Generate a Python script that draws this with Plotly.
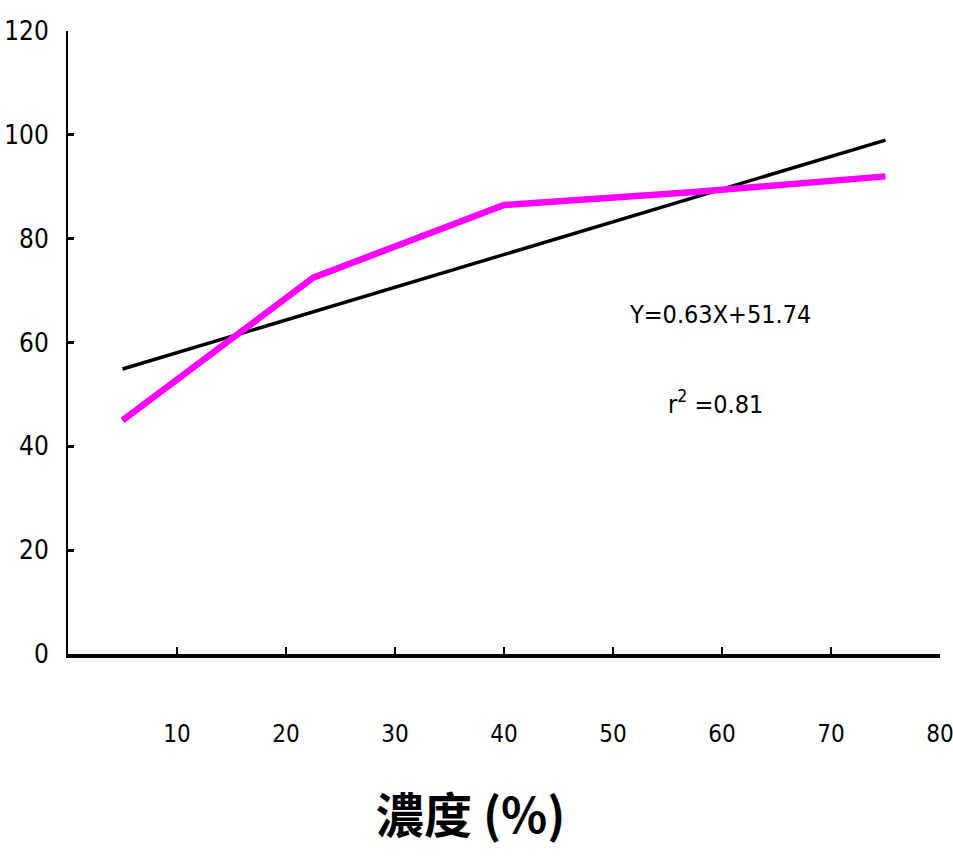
import plotly.graph_objects as go

# Concentration (%) and measured response
conc = [5, 22.5, 40, 57.5, 75]
response = [45, 72.5, 86.5, 89, 92]

# Linear fit as stated in the annotation
slope = 0.63
intercept = 51.74
fit_x = [conc[0], conc[-1]]
fit_y = [slope * x + intercept for x in fit_x]

x_ticks = [10, 20, 30, 40, 50, 60, 70, 80]
y_ticks = [0, 20, 40, 60, 80, 100, 120]

narrow = "DejaVu Sans Condensed, Liberation Sans Narrow, Liberation Sans, sans-serif"

fig = go.Figure()
fig.add_trace(go.Scatter(x=fit_x, y=fit_y, mode="lines",
                         line=dict(color="black", width=3.5), showlegend=False))
fig.add_trace(go.Scatter(x=conc, y=response, mode="lines",
                         line=dict(color="#FF00FF", width=6.5), showlegend=False))

fig.add_annotation(x=59.8, y=65.3, text="Y=0.63X+51.74", showarrow=False,
                   font=dict(family=narrow, size=25, color="black"))
fig.add_annotation(x=59.4, y=48.4, text="r<sup>2</sup> =0.81", showarrow=False,
                   font=dict(family=narrow, size=25, color="black"))

# Axis title placed as a paper annotation under the tick labels
fig.add_annotation(xref="paper", yref="paper", x=0.462, y=-0.254,
                   xanchor="center", yanchor="middle",
                   text="<b>濃度 (%)</b>", showarrow=False,
                   font=dict(family="Noto Sans CJK TC", size=48, color="black"))

fig.update_layout(
    width=953, height=856,
    margin=dict(l=68, r=13, t=31, b=202),
    paper_bgcolor="white", plot_bgcolor="white",
    font=dict(family=narrow, size=27, color="black"),
    xaxis=dict(range=[0, 80], tickvals=x_ticks, ticks="inside", ticklen=7,
               tickwidth=1.5, tickcolor="black", showline=True, linecolor="black",
               linewidth=4, showgrid=False, zeroline=False, ticklabelstandoff=55,
               tickfont=dict(size=24), ticklabeloverflow="allow", automargin=False),
    yaxis=dict(range=[0, 120], tickvals=y_ticks, ticks="inside", ticklen=6,
               tickwidth=3, tickcolor="black", showline=True, linecolor="black",
               linewidth=2, showgrid=False, zeroline=False, ticklabelstandoff=12,
               tickfont=dict(size=26), ticklabeloverflow="allow", automargin=False),
)

fig.write_html("out.html")
